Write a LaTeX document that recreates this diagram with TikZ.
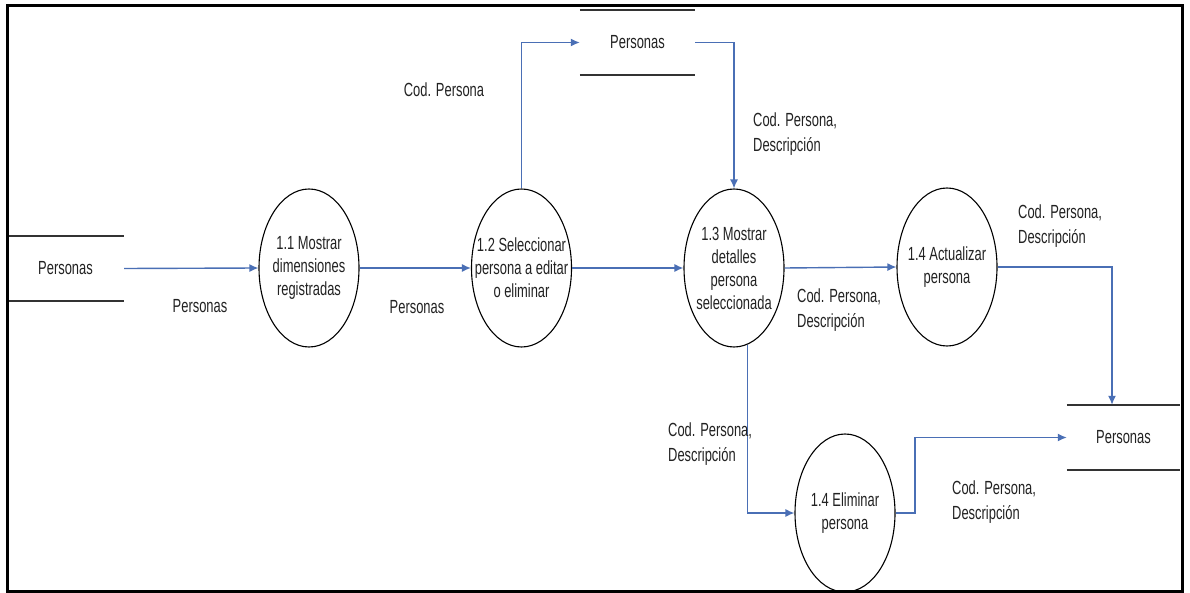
\documentclass[tikz,border=0pt]{standalone}
\usepackage{fontspec}
\setmainfont{Liberation Sans}[FakeStretch=0.68]
\usetikzlibrary{shapes.geometric,arrows.meta}

\definecolor{flowblue}{HTML}{4A6FB5}
\definecolor{inkgray}{HTML}{222222}
\definecolor{storegray}{HTML}{333333}

\begin{document}
\begin{tikzpicture}[x=1pt,y=-1pt,
  txt/.style={font=\fontsize{19}{23}\selectfont, text=inkgray, inner sep=0pt},
  lbl/.style={txt, align=left, anchor=west, font=\fontsize{19}{25}\selectfont},
  ptext/.style={txt, align=center},
  proc/.style={draw=black, line width=1.1pt, ellipse, inner sep=0pt,
               minimum width=100pt, minimum height=158pt},
  store/.style={txt, minimum height=65pt},
  storeline/.style={draw=storegray, line width=2pt},
  flow/.style={draw=flowblue, line width=1.4pt, -{Latex[length=9pt,width=8pt]}}
]
\useasboundingbox (0,0) rectangle (1190,593);
\fill[white] (0,0) rectangle (1190,593);

% data stores
\node[store, minimum width=117pt] (s1) at (65.5,268.5) {Personas};
\node[store, minimum width=115pt] (s2) at (637.5,42.5) {Personas};
\node[store, minimum width=113pt] (s3) at (1123.5,437.5) {Personas};
\foreach \s in {s1,s2,s3}{
  \draw[storeline] (\s.north west) -- (\s.north east);
  \draw[storeline] (\s.south west) -- (\s.south east);
}

% processes
\node[proc, label={[ptext]center:1.1 Mostrar\\dimensiones\\registradas}] (c11) at (309,268) {};
\node[proc, label={[ptext]center:1.2 Seleccionar\\persona a editar\\o eliminar}] (c12) at (521.5,268) {};
\node[proc, label={[ptext]center:1.3 Mostrar\\detalles\\persona\\seleccionada}] (c13) at (734,268) {};
\node[proc, label={[ptext]center:1.4 Actualizar\\persona}] (c14a) at (947,267) {};
\node[proc, label={[ptext]center:1.4 Eliminar\\persona}] (c14e) at (845,513) {};

% bends of the flows
\coordinate (k1) at (1112,267);
\coordinate (k3) at (915,513);

% data flows
\draw[flow] (s1.east) -- (c11.west);
\draw[flow] (c11.east) -- (c12.west);
\draw[flow] (c12.east) -- (c13.west);
\draw[flow] (c12.north) |- (s2.west);
\draw[flow] (s2.east) -| (c13.north);
\draw[flow] (c13.east) -- (c14a.west);
\draw[flow] (c14a.east) -- (k1) -- (k1 |- s3.north);
\draw[flow] (c13.-80) |- (c14e.west);
\draw[flow] (c14e.east) -- (k3) |- (s3.west);

% flow labels
\node[txt] (l1) at (200,306) {Personas};
\node[txt] (l2) at (417,307) {Personas};
\node[txt] (l3) at (444,90) {Cod. Persona};
\node[lbl] (l4) at (753,134) {Cod. Persona,\\Descripción};
\node[lbl] (l5) at (797,310) {Cod. Persona,\\Descripción};
\node[lbl] (l6) at (1018,226) {Cod. Persona,\\Descripción};
\node[lbl] (l7) at (668,444) {Cod. Persona,\\Descripción};
\node[lbl] (l8) at (952,502) {Cod. Persona,\\Descripción};

% outer frame
\draw[line width=3pt, black] (7,6) rectangle (1182,591);
\end{tikzpicture}
\end{document}
